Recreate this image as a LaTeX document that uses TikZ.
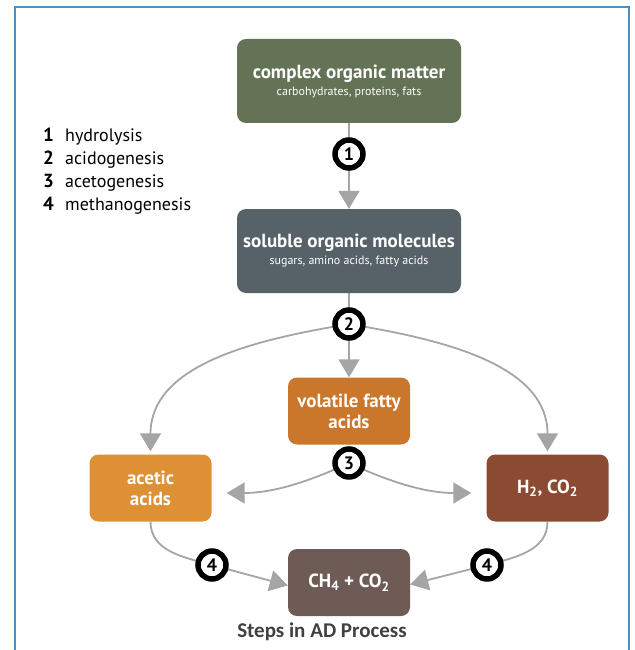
\documentclass[tikz,border=0pt]{standalone}
\usepackage{fontspec}
\setmainfont{PT Sans}
\newfontfamily\capfont{Carlito}
\usetikzlibrary{arrows.meta,calc,backgrounds}

\definecolor{framebl}{RGB}{74,144,194}
\definecolor{organic}{RGB}{100,114,86}
\definecolor{soluble}{RGB}{87,98,104}
\definecolor{volatile}{RGB}{202,119,44}
\definecolor{acetic}{RGB}{222,144,52}
\definecolor{hydro}{RGB}{139,74,50}
\definecolor{methane}{RGB}{110,91,86}
\definecolor{flowgr}{RGB}{165,165,165}
\definecolor{capgray}{RGB}{64,64,64}

\begin{document}
\begin{tikzpicture}[x=1pt,y=1pt,
  stage/.style={rounded corners=9pt,text=white,align=center,inner sep=0pt,
    minimum width=122pt,minimum height=67pt,font=\bfseries\fontsize{19}{21}\selectfont},
  wide/.style={minimum width=224pt,minimum height=84pt},
  flow/.style={draw=flowgr,line width=1.8pt,-{Triangle[width=21pt,length=18pt]}},
  stepnum/.style={circle,draw=black,fill=white,line width=5.5pt,inner sep=0pt,
    minimum size=28pt,font=\bfseries\fontsize{18}{18}\selectfont},
  legend/.style={anchor=base west,inner sep=0pt,font=\fontsize{18}{20}\selectfont}]
\useasboundingbox (0,0) rectangle (634,-650);
\draw[framebl,line width=2pt] (15,-650) |- (629,-7) -- (629,-650);

\node[stage,wide,fill=organic] (com) at (349,-81) {complex organic matter\\[-4pt]{\mdseries\fontsize{12}{15}\selectfont carbohydrates, proteins, fats}};
\node[stage,wide,fill=soluble] (sol) at (349,-251) {soluble organic molecules\\[-4pt]{\mdseries\fontsize{12}{15}\selectfont sugars, amino acids, fatty acids}};
\node[stage,fill=volatile] (vfa) at (349,-411) {volatile fatty\\acids};
\node[stage,fill=acetic] (ace) at (150.5,-488) {acetic\\acids};
\node[stage,fill=hydro] (hco) at (547.5,-488) {H\textsubscript{2}, CO\textsubscript{2}};
\node[stage,fill=methane] (met) at (349,-582.5) {CH\textsubscript{4} + CO\textsubscript{2}};

\node[stepnum] (s1) at (349,-154) {1};
\node[stepnum] (s2) at (349,-324) {2};
\node[stepnum] (s3) at (349,-463) {3};
\node[stepnum] (s4a) at (212,-565) {4};
\node[stepnum] (s4b) at (487,-565) {4};

\begin{scope}[on background layer]
\draw[flow] (com) -- (sol);
\draw[flow] (sol) -- (vfa);
\draw[flow,shorten >=3pt] (s2) to[out=190,in=90] (ace.north);
\draw[flow,shorten >=3pt] (s2) to[out=-10,in=90] (hco.north);
\draw[flow,shorten >=15pt] (s3.center) to[out=205,in=0] ([yshift=-5pt]ace.east);
\draw[flow,shorten >=15pt] (s3.center) to[out=-25,in=180] ([yshift=-5pt]hco.west);
\draw[flow] (ace) to[out=-90,in=165] (s4a.center) -- ([yshift=-3pt]met.west);
\draw[flow] (hco) to[out=-90,in=15] (s4b.center) -- ([yshift=-2pt]met.east);
\end{scope}

\node[legend] (l1) at (43,-142) {\makebox[22pt][l]{\bfseries\fontsize{19}{20}\selectfont 1}hydrolysis};
\node[legend] (l2) at ($(l1.base west)+(0,-22.7)$) {\makebox[22pt][l]{\bfseries\fontsize{19}{20}\selectfont 2}acidogenesis};
\node[legend] (l3) at ($(l2.base west)+(0,-22.7)$) {\makebox[22pt][l]{\bfseries\fontsize{19}{20}\selectfont 3}acetogenesis};
\node[legend] (l4) at ($(l3.base west)+(0,-22.7)$) {\makebox[22pt][l]{\bfseries\fontsize{19}{20}\selectfont 4}methanogenesis};

\node[font=\capfont\bfseries\fontsize{21}{22}\selectfont,text=capgray] (cap) at (322,-632) {Steps in AD Process};
\end{tikzpicture}
\end{document}
